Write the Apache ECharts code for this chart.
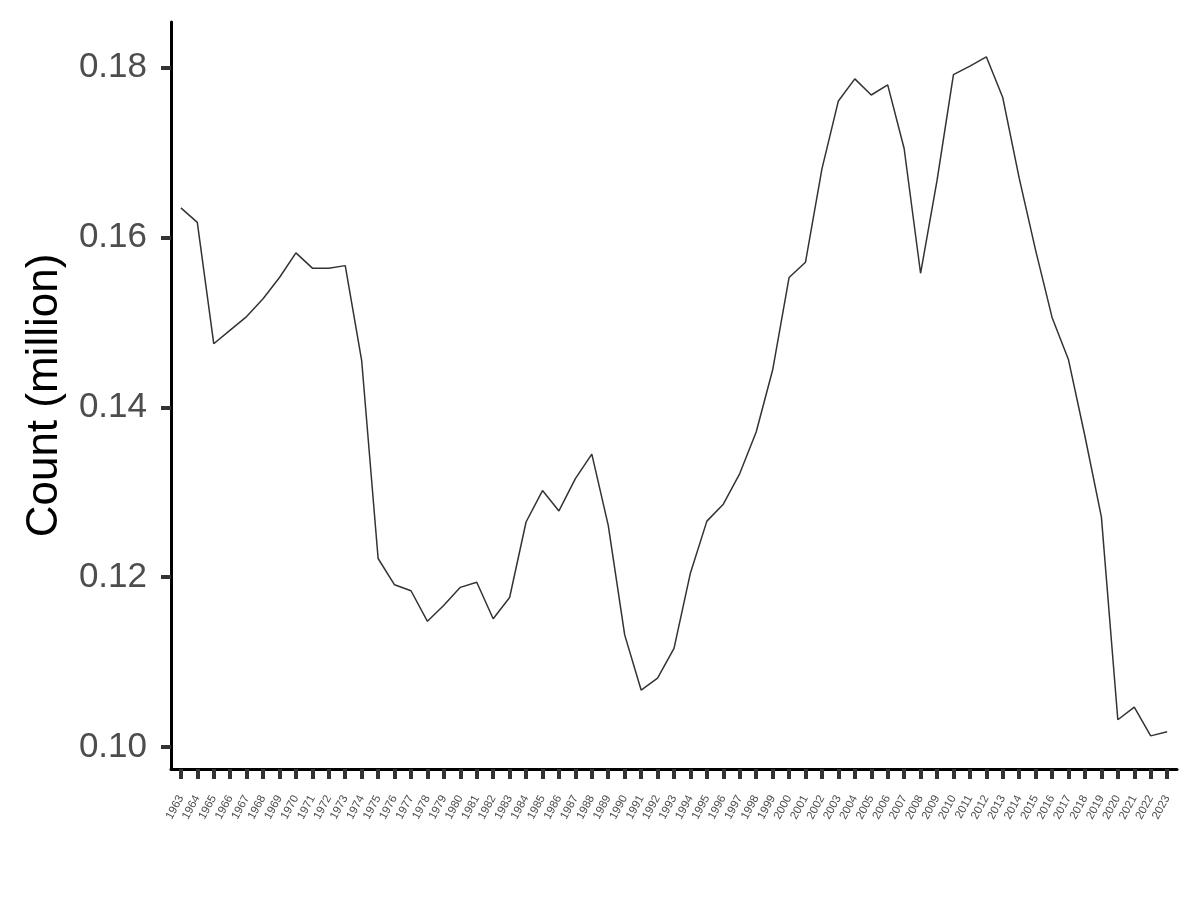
<!DOCTYPE html>
<html>
<head>
<meta charset="utf-8">
<title>Count (million)</title>
<script src="https://cdn.jsdelivr.net/npm/echarts@6/dist/echarts.min.js"></script>
<style>
  html, body { margin: 0; padding: 0; background: #fff; }
  #chart { width: 1200px; height: 900px; }
</style>
</head>
<body>
<div id="chart"></div>
<script>
  // years on the x axis
  var years = [
    1963, 1964, 1965, 1966, 1967, 1968, 1969, 1970, 1971, 1972,
    1973, 1974, 1975, 1976, 1977, 1978, 1979, 1980, 1981, 1982,
    1983, 1984, 1985, 1986, 1987, 1988, 1989, 1990, 1991, 1992,
    1993, 1994, 1995, 1996, 1997, 1998, 1999, 2000, 2001, 2002,
    2003, 2004, 2005, 2006, 2007, 2008, 2009, 2010, 2011, 2012,
    2013, 2014, 2015, 2016, 2017, 2018, 2019, 2020, 2021, 2022,
    2023
  ]
  // count in millions
  var counts = [
    0.1635, 0.1618, 0.1475, 0.1491, 0.1507, 0.1528, 0.1553, 0.1582, 0.1564, 0.1564,
    0.1567, 0.1455, 0.1222, 0.1191, 0.1184, 0.1148, 0.1167, 0.1188, 0.1194, 0.1151,
    0.1176, 0.1265, 0.1302, 0.1278, 0.1316, 0.1345, 0.1261, 0.1132, 0.1067, 0.1081,
    0.1116, 0.1205, 0.1266, 0.1286, 0.1322, 0.1371, 0.1444, 0.1553, 0.1571, 0.1681,
    0.1761, 0.1787, 0.1768, 0.1780, 0.1705, 0.1558, 0.1667, 0.1792, 0.1802, 0.1813,
    0.1765, 0.1670, 0.1585, 0.1506, 0.1456, 0.1366, 0.1271, 0.1032, 0.1047, 0.1013,
    0.1018
  ]
  var yTicks = [0.10, 0.12, 0.14, 0.16, 0.18]

  var chart = echarts.init(document.getElementById('chart'))
  var points = years.map(function (y, i) { return [y, counts[i]] })

  chart.setOption({
    animation: false,
    textStyle: { fontFamily: 'Liberation Sans, Arial, sans-serif' },
    grid: {
      left: 171,
      right: 23,
      top: 22,
      bottom: 131
    },
    xAxis: {
      type: 'value',
      min: 1962.4,
      max: 2023.6,
      axisLine: {
        lineStyle: { color: '#000', width: 3 }
      },
      axisTick: {
        customValues: years,
        length: 10,
        lineStyle: { color: '#333', width: 4 }
      },
      axisLabel: {
        customValues: years,
        rotate: 62,
        margin: 27,
        fontSize: 11.5,
        color: '#4d4d4d',
        formatter: function (v) { return String(v) }
      },
      splitLine: { show: false }
    },
    yAxis: {
      type: 'value',
      min: 0.0974,
      max: 0.1854,
      name: 'Count (million)',
      nameLocation: 'middle',
      nameGap: 104,
      nameTextStyle: {
        fontSize: 44,
        color: '#000'
      },
      axisLine: {
        show: true,
        lineStyle: { color: '#000', width: 3 }
      },
      axisTick: {
        customValues: yTicks,
        length: 10,
        lineStyle: { color: '#333', width: 4 }
      },
      axisLabel: {
        customValues: yTicks,
        margin: 24,
        fontSize: 35,
        color: '#4d4d4d',
        formatter: function (v) { return v.toFixed(2) }
      },
      splitLine: { show: false }
    },
    series: [{
      type: 'line',
      data: points,
      showSymbol: false,
      lineStyle: { color: '#333', width: 1.5 }
    }]
  })
</script>
</body>
</html>
